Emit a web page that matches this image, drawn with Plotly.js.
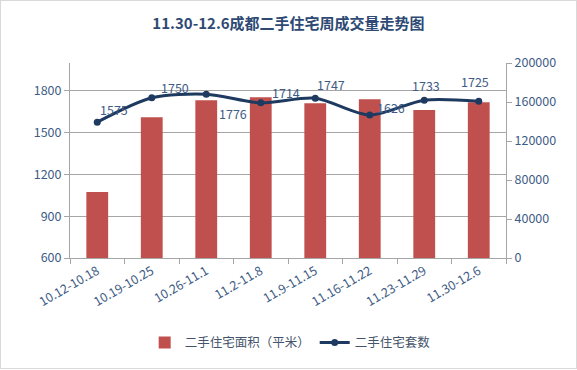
<!DOCTYPE html>
<html>
<head>
<meta charset="utf-8">
<script src="https://cdn.plot.ly/plotly-3.0.1.min.js"></script>
<style>
html,body{margin:0;padding:0;background:#fff;}
#wrap{position:relative;width:577px;height:370px;}
#chart{width:577px;height:370px;}
#frame{position:absolute;left:0;top:0;width:575px;height:367px;border:1px solid #D9D9D9;pointer-events:none;}
</style>
</head>
<body>
<div id="wrap"><div id="chart"></div><div id="frame"></div></div>
<script>
// data
var categories = ["10.12-10.18","10.19-10.25","10.26-11.1","11.2-11.8","11.9-11.15","11.16-11.22","11.23-11.29","11.30-12.6"];
var areaValues = [67600, 144400, 161800, 164900, 158700, 162800, 151900, 159800];
var unitValues = [1575, 1750, 1776, 1714, 1747, 1626, 1733, 1725];
var areaName = "二手住宅面积（平米）";
var unitName = "二手住宅套数";
var titleText = "11.30-12.6成都二手住宅周成交量走势图";

// label offsets (styling)
var labelShiftX = [17, 23, 27, 25, 16, 21, 2, -4];
var labelShiftY = [13, 10, -19, 10, 14, 8, 15, 20];

var textColor = "#3E5C85";
var gridColor = "#A6A6A6";
var fontFam = '"Noto Sans CJK SC", "Noto Sans", sans-serif';

// invisible carrier on the base (left, gridded) axis so the main subplot exists
var base = {
  type: "scatter", mode: "none", x: categories, y: unitValues, yaxis: "y",
  showlegend: false, hoverinfo: "skip"
};
var bars = {
  type: "bar", name: areaName, x: categories, y: areaValues,
  yaxis: "y2", marker: {color: "#C0504D"}, hoverinfo: "x+y"
};
var line = {
  type: "scatter", mode: "lines+markers", name: unitName, x: categories, y: unitValues,
  yaxis: "y3", line: {color: "#1F3A60", width: 3, shape: "spline", smoothing: 0.8},
  marker: {color: "#1F3A60", size: 7}
};

var annotations = unitValues.map(function(v, i){
  return {x: categories[i], y: v, xref: "x", yref: "y3", text: String(v), showarrow: false,
    xshift: labelShiftX[i], yshift: labelShiftY[i], font: {size: 12.5, color: textColor, family: fontFam}};
});

var layout = {
  width: 577, height: 370,
  margin: {l: 70, r: 71, t: 63, b: 112},
  paper_bgcolor: "#fff", plot_bgcolor: "#fff",
  font: {family: fontFam, size: 12, color: textColor},
  title: {text: "<b>" + titleText + "</b>", x: 0.5, xref: "container", xanchor: "center",
    y: 0.935, yref: "container", yanchor: "middle", font: {size: 15, color: "#2E4A74", family: fontFam}},
  bargap: 0.6,
  showlegend: true,
  legend: {orientation: "h", x: 0.505, xanchor: "center", y: -0.435, yanchor: "middle",
    font: {size: 12.5, color: "#44546A", family: fontFam}, traceorder: "normal"},
  xaxis: {type: "category", showline: true, linecolor: gridColor, linewidth: 1,
    ticks: "outside", tickson: "boundaries", ticklen: 5, tickcolor: gridColor,
    tickangle: -30, tickfont: {size: 12.5, color: textColor}, showgrid: false, zeroline: false},
  yaxis: {side: "left", range: [600, 2000], tick0: 600, dtick: 300, showgrid: true, gridcolor: gridColor,
    showline: true, linecolor: gridColor, ticks: "outside", ticklen: 5, tickcolor: gridColor,
    zeroline: false, tickfont: {size: 12.5, color: textColor}, tickformat: "d"},
  yaxis2: {side: "right", overlaying: "y", range: [0, 200000], dtick: 40000, tick0: 0, showgrid: false,
    showline: true, linecolor: gridColor, ticks: "outside", ticklen: 5, tickcolor: gridColor,
    zeroline: false, tickfont: {size: 12.5, color: textColor}, tickformat: "d"},
  yaxis3: {overlaying: "y", range: [600, 2000], visible: false, showgrid: false, zeroline: false},
  annotations: annotations
};

Plotly.newPlot("chart", [base, bars, line], layout, {displayModeBar: false, responsive: false});
</script>
</body>
</html>
